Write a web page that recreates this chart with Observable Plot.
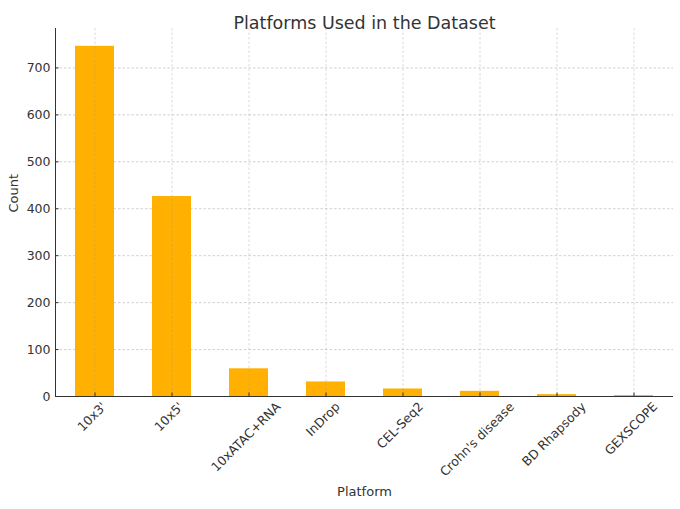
<!DOCTYPE html>
<html>
<head>
<meta charset="utf-8">
<script src="https://cdn.jsdelivr.net/npm/d3@7"></script>
<script src="https://cdn.jsdelivr.net/npm/@observablehq/plot@0.6"></script>
<style>
  html, body { margin: 0; padding: 0; background: #fff; }
  #chart svg { display: block; }
</style>
</head>
<body>
<div id="chart"></div>
<script>
const platforms = ["10x3'", "10x5'", "10xATAC+RNA", "InDrop", "CEL-Seq2", "Crohn's disease", "BD Rhapsody", "GEXSCOPE"];
const counts = [746, 426, 59, 31, 16, 11, 4, 2];
const yTicks = [0, 100, 200, 300, 400, 500, 600, 700];
const titleText = "Platforms Used in the Dataset";
const xLabel = "Platform";
const yLabel = "Count";

const data = platforms.map((p, i) => ({platform: p, count: counts[i]}));

const FONT = "DejaVu Sans";
const tickFs = 12.5;
const ctx = document.createElement("canvas").getContext("2d");
ctx.font = `${tickFs}px '${FONT}'`;

const labelMarks = platforms.map(p => {
  const w = ctx.measureText(p).width;
  const h = tickFs * 0.9;
  const off = 7 + 0.3536 * (w + h);
  return Plot.text([p], {
    x: d => d, frameAnchor: "bottom", dy: off, rotate: -45,
    textAnchor: "middle", fontSize: tickFs, fill: "#333"
  });
});

const chart = Plot.plot({
  width: 680,
  height: 509,
  marginLeft: 55,
  marginRight: 7,
  marginTop: 28,
  marginBottom: 113,
  style: {fontFamily: FONT, background: "#fff"},
  x: {type: "band", domain: platforms, paddingInner: 0.5, paddingOuter: 0.25},
  y: {domain: [0, 784]},
  marks: [
    Plot.gridY(yTicks, {stroke: "#b0b0b0", strokeOpacity: 0.75, strokeDasharray: "2.5,2", strokeWidth: 0.8}),
    Plot.barY(data, {x: "platform", y: "count", fill: "#FFB000"}),
    Plot.gridX(platforms, {stroke: "#999", strokeOpacity: 0.45, strokeDasharray: "2.5,2", strokeWidth: 0.8}),
    Plot.axisY({ticks: yTicks, tickSize: -3.5, tickFormat: () => "", label: null, color: "#333"}),
    Plot.text(yTicks, {y: d => d, frameAnchor: "left", dx: -5, textAnchor: "end", fontSize: tickFs, fill: "#333"}),
    Plot.axisX({tickSize: -3.5, tickFormat: () => "", label: null, color: "#333"}),
    Plot.frame({anchor: "left", stroke: "#333"}),
    Plot.ruleY([0], {stroke: "#333"}),
    ...labelMarks,
    Plot.text([titleText], {frameAnchor: "top", dy: -12, fontSize: 17.5, fill: "#333"}),
    Plot.text([xLabel], {frameAnchor: "bottom", dy: 99, fontSize: 13, fill: "#333"}),
    Plot.text([yLabel], {frameAnchor: "left", dx: -41.5, rotate: -90, fontSize: 13, fill: "#333"})
  ]
});
document.getElementById("chart").appendChild(chart);
</script>
</body>
</html>
